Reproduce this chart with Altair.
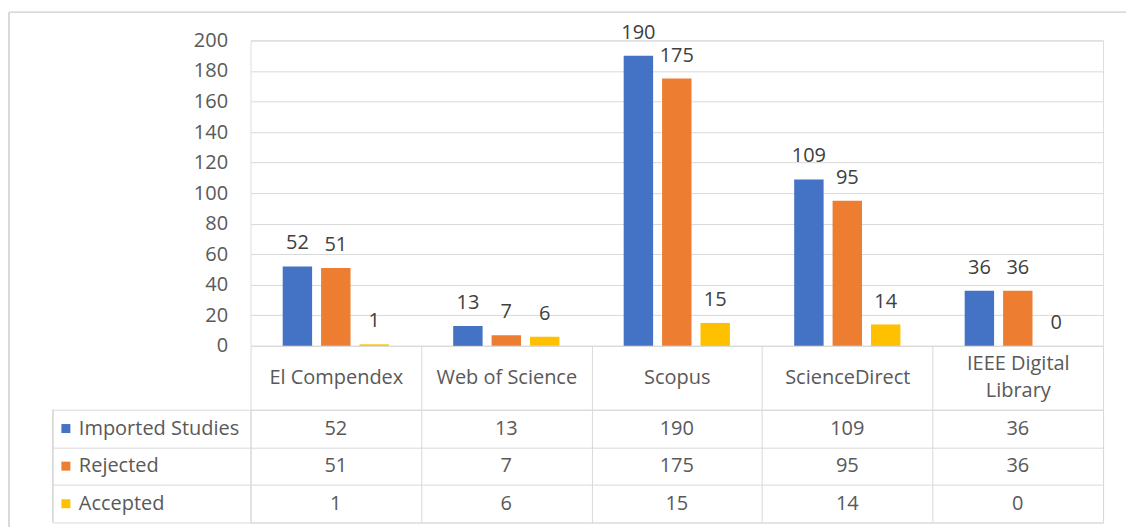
import altair as alt
import pandas as pd

databases = ["El Compendex", "Web of Science", "Scopus", "ScienceDirect", "IEEE Digital Library"]
series = ["Imported Studies", "Rejected", "Accepted"]
imported = [52, 13, 190, 109, 36]
rejected = [51, 7, 175, 95, 36]
accepted = [1, 6, 15, 14, 0]
colors = ["#4472C4", "#ED7D31", "#FFC000"]
y_ticks = [0, 20, 40, 60, 80, 100, 120, 140, 160, 180, 200]

rows = []
for s, vals in zip(series, [imported, rejected, accepted]):
    for d, v in zip(databases, vals):
        rows.append({"Database": d, "Series": s, "Value": v})
df = pd.DataFrame(rows)

FONT = "Open Sans"
GRID = "#d9d9d9"
LABEL = "#595959"

color_scale = alt.Scale(domain=series, range=colors)

x_top = alt.X("Database:N", sort=databases,
              scale=alt.Scale(paddingInner=0.377, paddingOuter=0.1885),
              axis=alt.Axis(title=None, labels=False, ticks=False, domain=True,
                            domainColor=GRID, grid=False))
xoff = alt.XOffset("Series:N", sort=series, scale=alt.Scale(paddingInner=0.234, paddingOuter=0))
y_top = alt.Y("Value:Q", scale=alt.Scale(domain=[0, 200], nice=False),
              axis=alt.Axis(title=None, values=y_ticks, ticks=False, domain=False,
                            grid=True, gridColor=GRID, labelFontSize=20, labelColor=LABEL,
                            labelFont=FONT, labelPadding=23))

bars = alt.Chart(df).mark_bar().encode(
    x=x_top, xOffset=xoff, y=y_top,
    color=alt.Color("Series:N", scale=color_scale, legend=None),
)
labels = alt.Chart(df).mark_text(dy=-17, baseline="alphabetic", fontSize=20,
                                 color="#404040", font=FONT).encode(
    x=x_top, xOffset=xoff, y=y_top, text="Value:Q"
)
frame_top = alt.Chart(df).mark_rule(color=GRID, strokeWidth=1).encode(
    x=alt.value(-242), x2=alt.value(877), y=alt.value(-28)
)
frame_left = alt.Chart(df).mark_rule(color=GRID, strokeWidth=1).encode(
    x=alt.value(-242), y=alt.value(-28), y2=alt.value(488)
)
top = alt.layer(frame_top, frame_left, bars, labels).properties(width=854, height=306)

x_tab = alt.X("Database:N", sort=databases,
              scale=alt.Scale(type="band", paddingInner=0, paddingOuter=0),
              axis=alt.Axis(orient="top", title=None, tickBand="extent", tickSize=64,
                            tickColor=GRID, grid=True, gridColor=GRID, domain=False,
                            labelPadding={"condition": {"test": "datum.value == 'IEEE Digital Library'",
                                                        "value": -18},
                                          "value": -32},
                            labelBaseline="middle", labelAngle=0,
                            labelLineHeight=27, labelFontSize=20, labelColor=LABEL,
                            labelFont=FONT,
                            labelExpr="datum.label == 'IEEE Digital Library' ? ['IEEE Digital', 'Library'] : datum.label"))
y_tab = alt.Y("Series:N", sort=series,
              scale=alt.Scale(type="band", paddingInner=0, paddingOuter=0),
              axis=alt.Axis(title=None, labels=False, domain=False, ticks=True,
                            tickBand="extent", tickSize=198, tickColor=GRID,
                            grid=True, gridColor=GRID))

cells = alt.Chart(df).mark_text(fontSize=20, color=LABEL, font=FONT).encode(
    x=x_tab, y=y_tab, text="Value:Q"
)
series_df = pd.DataFrame({"Series": series})
row_labels = alt.Chart(series_df).mark_text(align="left", fontSize=20, color=LABEL, font=FONT).encode(
    x=alt.value(-172), y=alt.Y("Series:N", sort=series), text="Series:N"
)
squares = alt.Chart(series_df).mark_square(size=81, opacity=1).encode(
    x=alt.value(-185), y=alt.Y("Series:N", sort=series),
    color=alt.Color("Series:N", scale=color_scale, legend=None)
)
left_border = alt.Chart(series_df).mark_rule(color=GRID, strokeWidth=1).encode(
    x=alt.value(-198), y=alt.value(0), y2=alt.value(113)
)
table = alt.layer(cells, row_labels, squares, left_border).properties(width=854, height=113)

chart = alt.vconcat(top, table, spacing=64, bounds="flush").resolve_scale(
    x="independent", y="independent", color="shared"
).properties(
    padding={"left": 8, "top": 11, "right": 0, "bottom": 0},
    background="white",
).configure_view(stroke=None).configure(font=FONT)

chart.save("out.html", embed_options={"renderer": "svg", "actions": False})
